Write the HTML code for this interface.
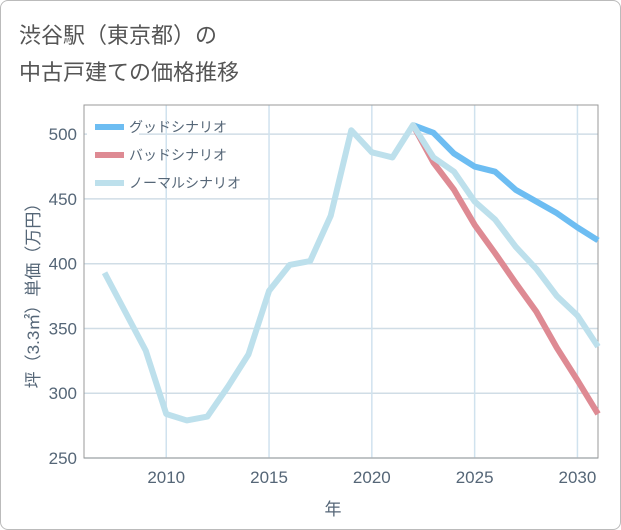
<!DOCTYPE html>
<html><head><meta charset="utf-8"><style>
body{margin:0;background:#fff;}
#wrap{position:relative;width:619px;height:528px;border:1px solid #bbb;border-radius:8px;background:#fff;overflow:hidden;font-family:"Liberation Sans","Noto Sans CJK JP",sans-serif;}
#title{position:absolute;left:18px;top:16px;font-size:22px;line-height:37px;color:#555;}
</style></head><body>
<div id="wrap">
<div id="title">渋谷駅（東京都）の<br>中古戸建ての価格推移</div>
<svg id="chart" width="619" height="528" style="position:absolute;left:0;top:0"></svg>
</div>
<script>
const years=[2007,2008,2009,2010,2011,2012,2013,2014,2015,2016,2017,2018,2019,2020,2021,2022,2023,2024,2025,2026,2027,2028,2029,2030,2031];
const normal=[393,363,333,284,279,282,305,330,379,399,402,437,503,486,482,507,482,471,448,434,413,396,375,360,336];
const goodYears=[2022,2023,2024,2025,2026,2027,2028,2029,2030,2031];
const good=[507,501,485,475,471,457,448,439,428,418];
const bad=[507,478,457,430,408,385,363,335,310,284];
const xTicks=[2010,2015,2020,2025,2030];
const yTicks=[250,300,350,400,450,500];
const L=83,R=597,T=104,B=457,X0=2006,X1=2031,Y0=250,Y1=522.5;
const NS='http://www.w3.org/2000/svg';
const svg=document.getElementById('chart');
const sx=v=>L+(v-X0)/(X1-X0)*(R-L);
const sy=v=>B-(v-Y0)/(Y1-Y0)*(B-T);
function mk(t,a){const e=document.createElementNS(NS,t);for(const k in a)e.setAttribute(k,a[k]);svg.appendChild(e);return e;}
for(const v of yTicks){
const l=mk('line',{x1:L,x2:R,y1:sy(v),y2:sy(v),stroke:'#d0dde6','stroke-width':1.5});


const t=mk('text',{x:L-7,y:sy(v)+6,'text-anchor':'end','font-size':17,fill:'#556677'});t.textContent=v;


}
for(const v of xTicks){
const l=mk('line',{x1:sx(v),x2:sx(v),y1:T,y2:B,stroke:'#d0e2ee','stroke-width':1.5});


const t=mk('text',{x:sx(v),y:B+25,'text-anchor':'middle','font-size':17,fill:'#556677'});t.textContent=v;


}
const box=mk('rect',{x:L,y:T,width:R-L,height:B-T,fill:'none',stroke:'#999','stroke-width':1});


function line(xs,ys,c,name){
const p=mk('polyline',{points:xs.map((x,i)=>sx(x)+','+sy(ys[i])).join(' '),fill:'none',stroke:c,'stroke-width':6,'stroke-linejoin':'round'});


}
line(goodYears,good,'#6dbdf2','good-scenario-line');
line(goodYears,bad,'#de8a93','bad-scenario-line');
line(years,normal,'#bde0ec','normal-scenario-line');
const legend=[['グッドシナリオ','#6dbdf2'],['バッドシナリオ','#de8a93'],['ノーマルシナリオ','#bde0ec']];
const lb=mk('rect',{x:86,y:112,width:52,height:84,fill:'#fff'});


legend.forEach((d,i)=>{
const y=126+i*28;
const l=mk('line',{x1:94,x2:123,y1:y,y2:y,stroke:d[1],'stroke-width':6});


const t=mk('text',{x:128,y:y+5,'font-size':14,fill:'#556677'});t.textContent=d[0];


});
const yt=mk('text',{x:38,y:B-(B-T)/2+10,'text-anchor':'middle','font-size':17,fill:'#556677',transform:`rotate(-90 38 ${B-(B-T)/2+10})`});
yt.textContent='坪（3.3㎡）単価（万円）';


const xt=mk('text',{x:(L+R)/2-8,y:514,'text-anchor':'middle','font-size':17,fill:'#556677'});
xt.textContent='年';


</script>
</body></html>
